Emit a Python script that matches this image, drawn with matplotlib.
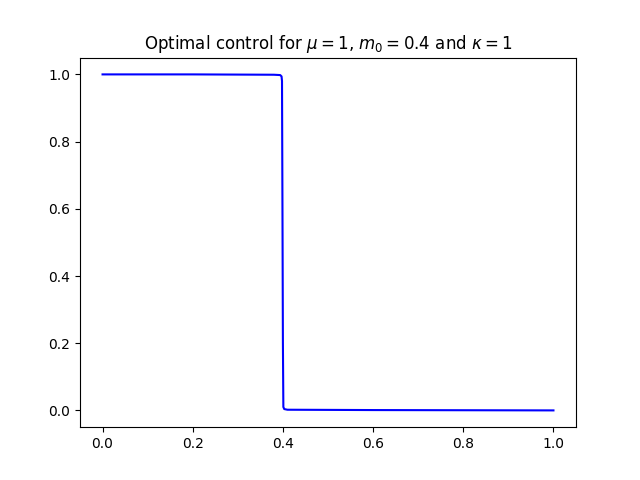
import numpy as np
import matplotlib
matplotlib.use("Agg")
import matplotlib.pyplot as plt

# Control values (bang-bang switch near t = 0.4)
t = [0.0, 0.2, 0.38, 0.394, 0.397, 0.398, 0.399, 0.4, 0.401, 0.403, 0.41, 0.6, 1.0]
u = [1.0, 1.0, 0.999, 0.998, 0.994, 0.98, 0.6, 0.2, 0.01, 0.004, 0.002, 0.001, 0.0]

fig, ax = plt.subplots(figsize=(6.4, 4.8), dpi=100)
ax.plot(t, u, "b")
ax.set_title(r"Optimal control for $\mu = 1$, $m_0 = 0.4$ and $\kappa = 1$")
fig.savefig("out.png")
